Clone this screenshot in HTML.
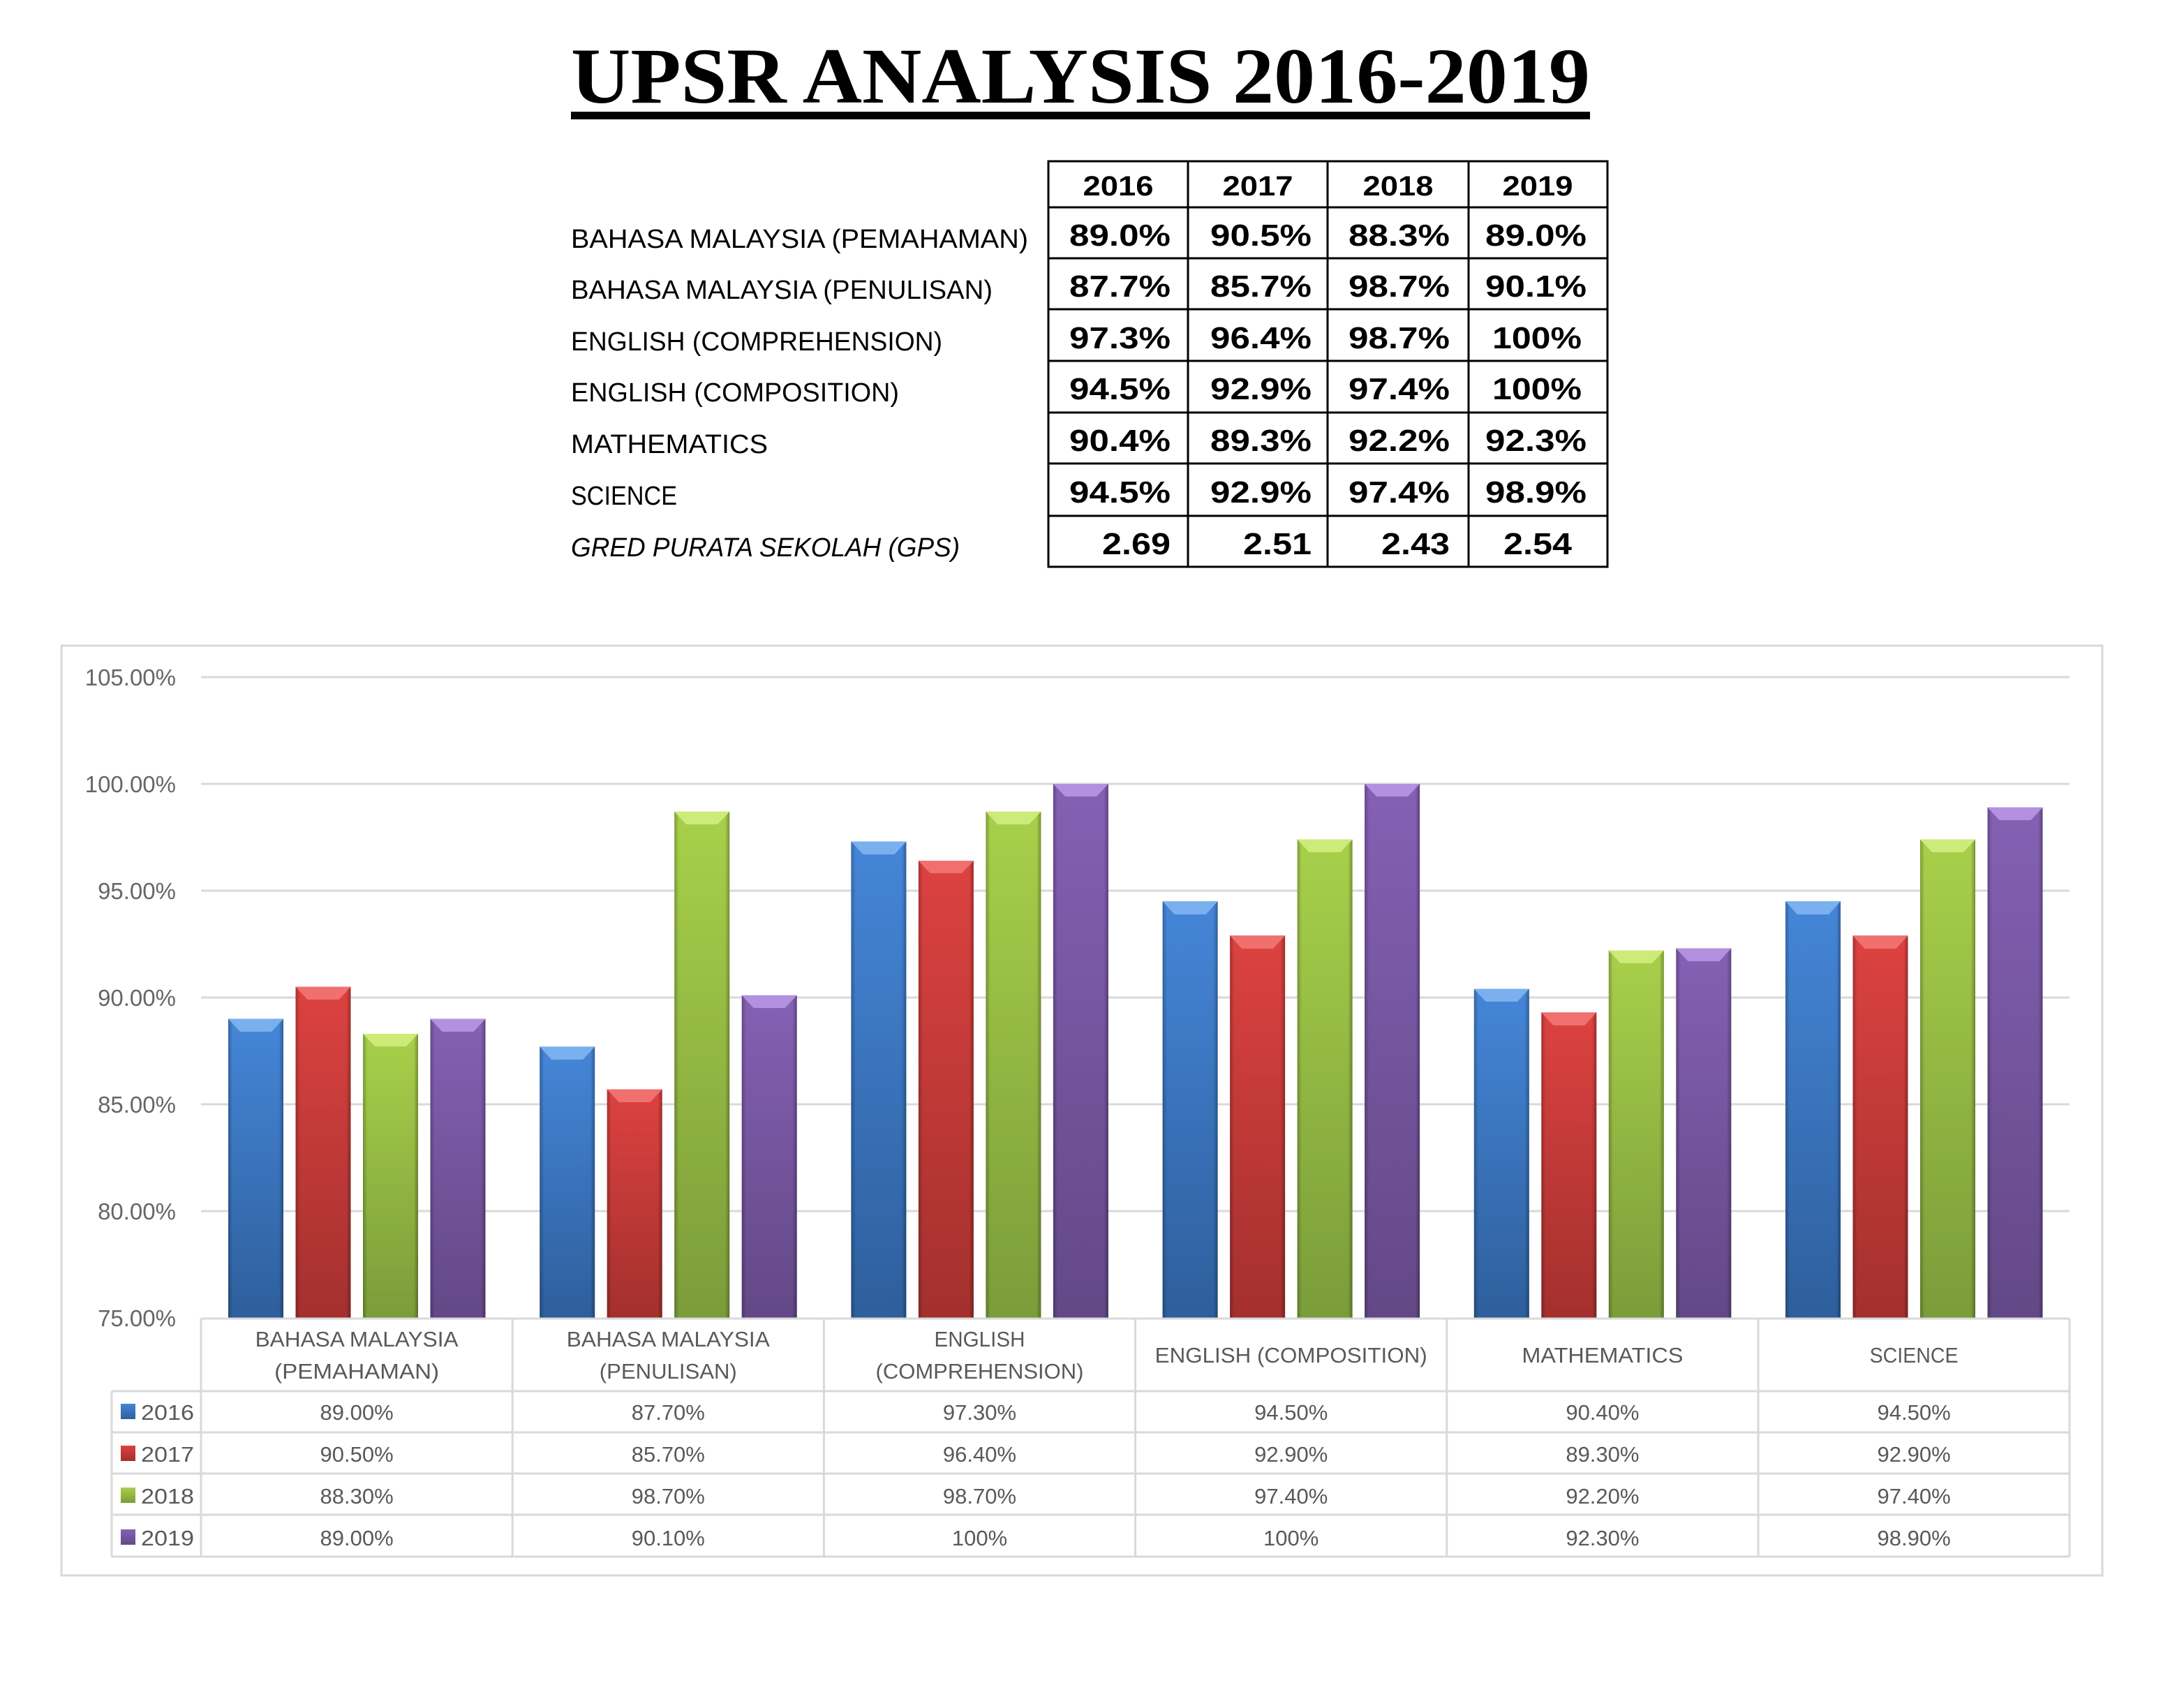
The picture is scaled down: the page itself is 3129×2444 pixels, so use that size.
<!DOCTYPE html>
<html><head><meta charset="utf-8"><style>html,body{margin:0;padding:0;background:#fff}svg{display:block}</style></head>
<body>
<svg xmlns="http://www.w3.org/2000/svg" width="3129" height="2444" viewBox="0 0 3129 2444">
<defs>
<linearGradient id="gB" x1="0" y1="0" x2="0" y2="1"><stop offset="0" stop-color="#4586d8"/><stop offset="1" stop-color="#2e5f9c"/></linearGradient>
<linearGradient id="gR" x1="0" y1="0" x2="0" y2="1"><stop offset="0" stop-color="#dc4240"/><stop offset="1" stop-color="#a3302e"/></linearGradient>
<linearGradient id="gG" x1="0" y1="0" x2="0" y2="1"><stop offset="0" stop-color="#a8d04a"/><stop offset="1" stop-color="#7b9c3a"/></linearGradient>
<linearGradient id="gP" x1="0" y1="0" x2="0" y2="1"><stop offset="0" stop-color="#8560b4"/><stop offset="1" stop-color="#634886"/></linearGradient>
<linearGradient id="side" x1="0" y1="0" x2="1" y2="0"><stop offset="0" stop-color="#000" stop-opacity="0.25"/><stop offset="0.08" stop-color="#000" stop-opacity="0"/><stop offset="0.92" stop-color="#000" stop-opacity="0"/><stop offset="1" stop-color="#000" stop-opacity="0.3"/></linearGradient>
</defs>

<text x="818" y="147" font-family="Liberation Serif, serif" font-weight="bold" font-size="113" textLength="1460" lengthAdjust="spacingAndGlyphs">UPSR ANALYSIS 2016-2019</text>
<rect x="818" y="160" width="1460" height="11" fill="#000"/>

<g fill="none" stroke="#000" stroke-width="3">
<rect x="1502" y="231" width="801" height="581"/>
<line x1="1702" y1="231" x2="1702" y2="812"/><line x1="1902" y1="231" x2="1902" y2="812"/><line x1="2104" y1="231" x2="2104" y2="812"/>
<line x1="1502" y1="297" x2="2303" y2="297"/><line x1="1502" y1="370" x2="2303" y2="370"/><line x1="1502" y1="443" x2="2303" y2="443"/><line x1="1502" y1="517" x2="2303" y2="517"/><line x1="1502" y1="591" x2="2303" y2="591"/><line x1="1502" y1="664" x2="2303" y2="664"/><line x1="1502" y1="739" x2="2303" y2="739"/>
</g>
<g font-family="Liberation Sans, sans-serif" font-weight="bold" font-size="40" text-anchor="middle">
<text x="1602" y="280" textLength="101" lengthAdjust="spacingAndGlyphs">2016</text>
<text x="1802" y="280" textLength="101" lengthAdjust="spacingAndGlyphs">2017</text>
<text x="2003" y="280" textLength="101" lengthAdjust="spacingAndGlyphs">2018</text>
<text x="2203" y="280" textLength="101" lengthAdjust="spacingAndGlyphs">2019</text>
</g>
<g font-family="Liberation Sans, sans-serif" font-size="38">
<text x="818" y="355" textLength="655" lengthAdjust="spacingAndGlyphs">BAHASA MALAYSIA (PEMAHAMAN)</text>
<text x="818" y="428" textLength="604" lengthAdjust="spacingAndGlyphs">BAHASA MALAYSIA (PENULISAN)</text>
<text x="818" y="502" textLength="532" lengthAdjust="spacingAndGlyphs">ENGLISH (COMPREHENSION)</text>
<text x="818" y="575" textLength="470" lengthAdjust="spacingAndGlyphs">ENGLISH (COMPOSITION)</text>
<text x="818" y="649" textLength="282" lengthAdjust="spacingAndGlyphs">MATHEMATICS</text>
<text x="818" y="723" textLength="152" lengthAdjust="spacingAndGlyphs">SCIENCE</text>
<text x="818" y="797" font-style="italic" textLength="557" lengthAdjust="spacingAndGlyphs">GRED PURATA SEKOLAH (GPS)</text>
</g>
<g font-family="Liberation Sans, sans-serif" font-weight="bold" font-size="44" text-anchor="end">
<text x="1677" y="352" textLength="145" lengthAdjust="spacingAndGlyphs">89.0%</text><text x="1879" y="352" textLength="145" lengthAdjust="spacingAndGlyphs">90.5%</text><text x="2077" y="352" textLength="145" lengthAdjust="spacingAndGlyphs">88.3%</text><text x="2273" y="352" textLength="145" lengthAdjust="spacingAndGlyphs">89.0%</text>
<text x="1677" y="425" textLength="145" lengthAdjust="spacingAndGlyphs">87.7%</text><text x="1879" y="425" textLength="145" lengthAdjust="spacingAndGlyphs">85.7%</text><text x="2077" y="425" textLength="145" lengthAdjust="spacingAndGlyphs">98.7%</text><text x="2273" y="425" textLength="145" lengthAdjust="spacingAndGlyphs">90.1%</text>
<text x="1677" y="499" textLength="145" lengthAdjust="spacingAndGlyphs">97.3%</text><text x="1879" y="499" textLength="145" lengthAdjust="spacingAndGlyphs">96.4%</text><text x="2077" y="499" textLength="145" lengthAdjust="spacingAndGlyphs">98.7%</text><text x="2266" y="499" textLength="128" lengthAdjust="spacingAndGlyphs">100%</text>
<text x="1677" y="572" textLength="145" lengthAdjust="spacingAndGlyphs">94.5%</text><text x="1879" y="572" textLength="145" lengthAdjust="spacingAndGlyphs">92.9%</text><text x="2077" y="572" textLength="145" lengthAdjust="spacingAndGlyphs">97.4%</text><text x="2266" y="572" textLength="128" lengthAdjust="spacingAndGlyphs">100%</text>
<text x="1677" y="646" textLength="145" lengthAdjust="spacingAndGlyphs">90.4%</text><text x="1879" y="646" textLength="145" lengthAdjust="spacingAndGlyphs">89.3%</text><text x="2077" y="646" textLength="145" lengthAdjust="spacingAndGlyphs">92.2%</text><text x="2273" y="646" textLength="145" lengthAdjust="spacingAndGlyphs">92.3%</text>
<text x="1677" y="720" textLength="145" lengthAdjust="spacingAndGlyphs">94.5%</text><text x="1879" y="720" textLength="145" lengthAdjust="spacingAndGlyphs">92.9%</text><text x="2077" y="720" textLength="145" lengthAdjust="spacingAndGlyphs">97.4%</text><text x="2273" y="720" textLength="145" lengthAdjust="spacingAndGlyphs">98.9%</text>
<text x="1677" y="794" textLength="98" lengthAdjust="spacingAndGlyphs">2.69</text><text x="1879" y="794" textLength="98" lengthAdjust="spacingAndGlyphs">2.51</text><text x="2077" y="794" textLength="98" lengthAdjust="spacingAndGlyphs">2.43</text><text x="2252" y="794" textLength="98" lengthAdjust="spacingAndGlyphs">2.54</text>
</g>

<rect x="88" y="925" width="2924" height="1332" fill="#fff" stroke="#d9d9d9" stroke-width="3"/>
<g stroke="#d9d9d9" stroke-width="3">
<line x1="288" y1="970" x2="2965" y2="970"/><line x1="288" y1="1123" x2="2965" y2="1123"/><line x1="288" y1="1276" x2="2965" y2="1276"/><line x1="288" y1="1429" x2="2965" y2="1429"/><line x1="288" y1="1582" x2="2965" y2="1582"/><line x1="288" y1="1735" x2="2965" y2="1735"/>
</g>
<g font-family="Liberation Sans, sans-serif" font-size="33" fill="#666" text-anchor="end">
<text x="252" y="982">105.00%</text><text x="252" y="1135">100.00%</text><text x="252" y="1288">95.00%</text><text x="252" y="1441">90.00%</text><text x="252" y="1594">85.00%</text><text x="252" y="1747">80.00%</text><text x="252" y="1900">75.00%</text>
</g>

<g>
<g transform="translate(327,0)"><rect y="1459.6" width="79" height="428.4" fill="url(#gB)"/><rect y="1459.6" width="79" height="428.4" fill="url(#side)"/><polygon points="0,1459.6 79,1459.6 62,1478 17,1478" fill="#7ab0ee"/></g>
<g transform="translate(423.5,0)"><rect y="1413.7" width="79" height="474.3" fill="url(#gR)"/><rect y="1413.7" width="79" height="474.3" fill="url(#side)"/><polygon points="0,1413.7 79,1413.7 62,1432 17,1432" fill="#f07070"/></g>
<g transform="translate(520,0)"><rect y="1481" width="79" height="407" fill="url(#gG)"/><rect y="1481" width="79" height="407" fill="url(#side)"/><polygon points="0,1481 79,1481 62,1499 17,1499" fill="#cdeb78"/></g>
<g transform="translate(616.5,0)"><rect y="1459.6" width="79" height="428.4" fill="url(#gP)"/><rect y="1459.6" width="79" height="428.4" fill="url(#side)"/><polygon points="0,1459.6 79,1459.6 62,1478 17,1478" fill="#b490e0"/></g>

<g transform="translate(773.2,0)"><rect y="1499.4" width="79" height="388.6" fill="url(#gB)"/><rect y="1499.4" width="79" height="388.6" fill="url(#side)"/><polygon points="0,1499.4 79,1499.4 62,1518 17,1518" fill="#7ab0ee"/></g>
<g transform="translate(869.7,0)"><rect y="1560.6" width="79" height="327.4" fill="url(#gR)"/><rect y="1560.6" width="79" height="327.4" fill="url(#side)"/><polygon points="0,1560.6 79,1560.6 62,1579 17,1579" fill="#f07070"/></g>
<g transform="translate(966.2,0)"><rect y="1162.8" width="79" height="725.2" fill="url(#gG)"/><rect y="1162.8" width="79" height="725.2" fill="url(#side)"/><polygon points="0,1162.8 79,1162.8 62,1181 17,1181" fill="#cdeb78"/></g>
<g transform="translate(1062.7,0)"><rect y="1425.9" width="79" height="462.1" fill="url(#gP)"/><rect y="1425.9" width="79" height="462.1" fill="url(#side)"/><polygon points="0,1425.9 79,1425.9 62,1444 17,1444" fill="#b490e0"/></g>

<g transform="translate(1219.4,0)"><rect y="1205.6" width="79" height="682.4" fill="url(#gB)"/><rect y="1205.6" width="79" height="682.4" fill="url(#side)"/><polygon points="0,1205.6 79,1205.6 62,1224 17,1224" fill="#7ab0ee"/></g>
<g transform="translate(1315.9,0)"><rect y="1233.2" width="79" height="654.8" fill="url(#gR)"/><rect y="1233.2" width="79" height="654.8" fill="url(#side)"/><polygon points="0,1233.2 79,1233.2 62,1251 17,1251" fill="#f07070"/></g>
<g transform="translate(1412.4,0)"><rect y="1162.8" width="79" height="725.2" fill="url(#gG)"/><rect y="1162.8" width="79" height="725.2" fill="url(#side)"/><polygon points="0,1162.8 79,1162.8 62,1181 17,1181" fill="#cdeb78"/></g>
<g transform="translate(1508.9,0)"><rect y="1123" width="79" height="765" fill="url(#gP)"/><rect y="1123" width="79" height="765" fill="url(#side)"/><polygon points="0,1123 79,1123 62,1141 17,1141" fill="#b490e0"/></g>

<g transform="translate(1665.6,0)"><rect y="1291.3" width="79" height="596.7" fill="url(#gB)"/><rect y="1291.3" width="79" height="596.7" fill="url(#side)"/><polygon points="0,1291.3 79,1291.3 62,1310 17,1310" fill="#7ab0ee"/></g>
<g transform="translate(1762.1,0)"><rect y="1340.3" width="79" height="547.7" fill="url(#gR)"/><rect y="1340.3" width="79" height="547.7" fill="url(#side)"/><polygon points="0,1340.3 79,1340.3 62,1359 17,1359" fill="#f07070"/></g>
<g transform="translate(1858.6,0)"><rect y="1202.6" width="79" height="685.4" fill="url(#gG)"/><rect y="1202.6" width="79" height="685.4" fill="url(#side)"/><polygon points="0,1202.6 79,1202.6 62,1221 17,1221" fill="#cdeb78"/></g>
<g transform="translate(1955.1,0)"><rect y="1123" width="79" height="765" fill="url(#gP)"/><rect y="1123" width="79" height="765" fill="url(#side)"/><polygon points="0,1123 79,1123 62,1141 17,1141" fill="#b490e0"/></g>

<g transform="translate(2111.8,0)"><rect y="1416.8" width="79" height="471.2" fill="url(#gB)"/><rect y="1416.8" width="79" height="471.2" fill="url(#side)"/><polygon points="0,1416.8 79,1416.8 62,1435 17,1435" fill="#7ab0ee"/></g>
<g transform="translate(2208.3,0)"><rect y="1450.4" width="79" height="437.6" fill="url(#gR)"/><rect y="1450.4" width="79" height="437.6" fill="url(#side)"/><polygon points="0,1450.4 79,1450.4 62,1469 17,1469" fill="#f07070"/></g>
<g transform="translate(2304.8,0)"><rect y="1361.7" width="79" height="526.3" fill="url(#gG)"/><rect y="1361.7" width="79" height="526.3" fill="url(#side)"/><polygon points="0,1361.7 79,1361.7 62,1380 17,1380" fill="#cdeb78"/></g>
<g transform="translate(2401.3,0)"><rect y="1358.6" width="79" height="529.4" fill="url(#gP)"/><rect y="1358.6" width="79" height="529.4" fill="url(#side)"/><polygon points="0,1358.6 79,1358.6 62,1377 17,1377" fill="#b490e0"/></g>

<g transform="translate(2558,0)"><rect y="1291.3" width="79" height="596.7" fill="url(#gB)"/><rect y="1291.3" width="79" height="596.7" fill="url(#side)"/><polygon points="0,1291.3 79,1291.3 62,1310 17,1310" fill="#7ab0ee"/></g>
<g transform="translate(2654.5,0)"><rect y="1340.3" width="79" height="547.7" fill="url(#gR)"/><rect y="1340.3" width="79" height="547.7" fill="url(#side)"/><polygon points="0,1340.3 79,1340.3 62,1359 17,1359" fill="#f07070"/></g>
<g transform="translate(2751,0)"><rect y="1202.6" width="79" height="685.4" fill="url(#gG)"/><rect y="1202.6" width="79" height="685.4" fill="url(#side)"/><polygon points="0,1202.6 79,1202.6 62,1221 17,1221" fill="#cdeb78"/></g>
<g transform="translate(2847.5,0)"><rect y="1156.7" width="79" height="731.3" fill="url(#gP)"/><rect y="1156.7" width="79" height="731.3" fill="url(#side)"/><polygon points="0,1156.7 79,1156.7 62,1175 17,1175" fill="#b490e0"/></g>
</g>

<g stroke="#d9d9d9" stroke-width="3">
<line x1="288" y1="1889" x2="2965" y2="1889"/>
<line x1="160" y1="1993" x2="2965" y2="1993"/><line x1="160" y1="2052" x2="2965" y2="2052"/><line x1="160" y1="2111" x2="2965" y2="2111"/><line x1="160" y1="2170" x2="2965" y2="2170"/><line x1="160" y1="2230" x2="2965" y2="2230"/>
<line x1="160" y1="1993" x2="160" y2="2230"/>
<line x1="288" y1="1889" x2="288" y2="2230"/><line x1="734.2" y1="1889" x2="734.2" y2="2230"/><line x1="1180.4" y1="1889" x2="1180.4" y2="2230"/><line x1="1626.6" y1="1889" x2="1626.6" y2="2230"/><line x1="2072.8" y1="1889" x2="2072.8" y2="2230"/><line x1="2519" y1="1889" x2="2519" y2="2230"/><line x1="2965" y1="1889" x2="2965" y2="2230"/>
</g>
<g font-family="Liberation Sans, sans-serif" font-size="31" fill="#595959" text-anchor="middle">
<text x="511.1" y="1929" textLength="291" lengthAdjust="spacingAndGlyphs">BAHASA MALAYSIA</text>
<text x="511.1" y="1975" textLength="236" lengthAdjust="spacingAndGlyphs">(PEMAHAMAN)</text>
<text x="957.3" y="1929" textLength="291" lengthAdjust="spacingAndGlyphs">BAHASA MALAYSIA</text>
<text x="957.3" y="1975" textLength="197" lengthAdjust="spacingAndGlyphs">(PENULISAN)</text>
<text x="1403.5" y="1929" textLength="130" lengthAdjust="spacingAndGlyphs">ENGLISH</text>
<text x="1403.5" y="1975" textLength="298" lengthAdjust="spacingAndGlyphs">(COMPREHENSION)</text>
<text x="1849.7" y="1952" textLength="390" lengthAdjust="spacingAndGlyphs">ENGLISH (COMPOSITION)</text>
<text x="2295.9" y="1952" textLength="231" lengthAdjust="spacingAndGlyphs">MATHEMATICS</text>
<text x="2742.1" y="1952" textLength="127" lengthAdjust="spacingAndGlyphs">SCIENCE</text>

<text x="511.1" y="2034">89.00%</text><text x="957.3" y="2034">87.70%</text><text x="1403.5" y="2034">97.30%</text><text x="1849.7" y="2034">94.50%</text><text x="2295.9" y="2034">90.40%</text><text x="2742.1" y="2034">94.50%</text>
<text x="511.1" y="2094">90.50%</text><text x="957.3" y="2094">85.70%</text><text x="1403.5" y="2094">96.40%</text><text x="1849.7" y="2094">92.90%</text><text x="2295.9" y="2094">89.30%</text><text x="2742.1" y="2094">92.90%</text>
<text x="511.1" y="2154">88.30%</text><text x="957.3" y="2154">98.70%</text><text x="1403.5" y="2154">98.70%</text><text x="1849.7" y="2154">97.40%</text><text x="2295.9" y="2154">92.20%</text><text x="2742.1" y="2154">97.40%</text>
<text x="511.1" y="2214">89.00%</text><text x="957.3" y="2214">90.10%</text><text x="1403.5" y="2214">100%</text><text x="1849.7" y="2214">100%</text><text x="2295.9" y="2214">92.30%</text><text x="2742.1" y="2214">98.90%</text>
</g>
<rect x="173" y="2011" width="21" height="22" fill="url(#gB)"/>
<rect x="173" y="2071" width="21" height="22" fill="url(#gR)"/>
<rect x="173" y="2131" width="21" height="22" fill="url(#gG)"/>
<rect x="173" y="2191" width="21" height="22" fill="url(#gP)"/>
<g font-family="Liberation Sans, sans-serif" font-size="31" fill="#595959">
<text x="202" y="2034" textLength="76" lengthAdjust="spacingAndGlyphs">2016</text>
<text x="202" y="2094" textLength="76" lengthAdjust="spacingAndGlyphs">2017</text>
<text x="202" y="2154" textLength="76" lengthAdjust="spacingAndGlyphs">2018</text>
<text x="202" y="2214" textLength="76" lengthAdjust="spacingAndGlyphs">2019</text>
</g>
</svg>
</body></html>
